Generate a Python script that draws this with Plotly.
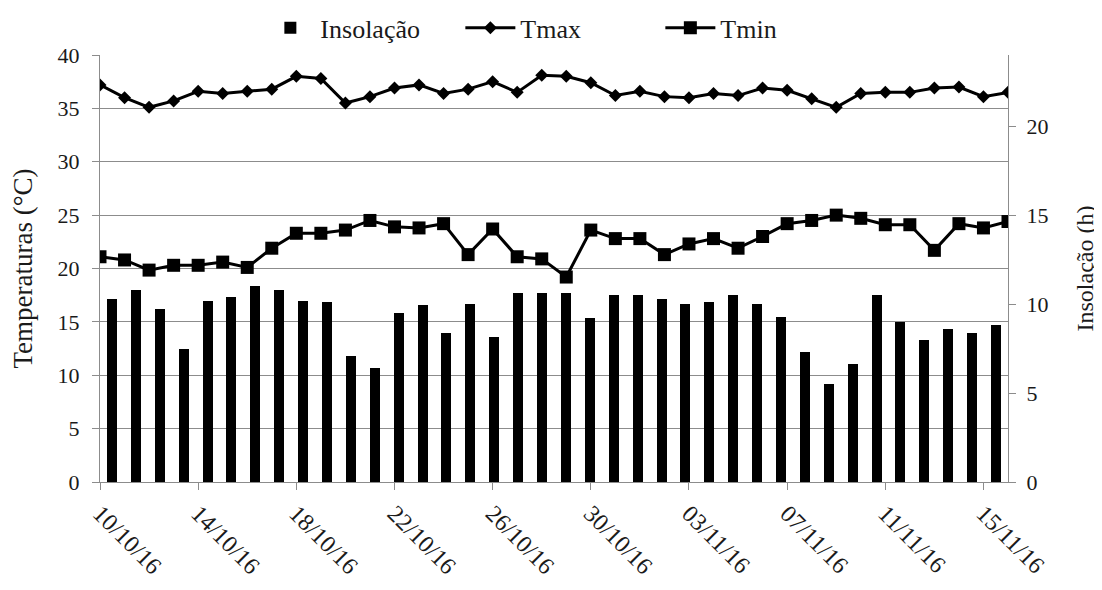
import plotly.graph_objects as go
import pandas as pd

dates = pd.date_range("2016-10-10", "2016-11-16", freq="D")
date_labels = [d.strftime("%d/%m/%y") for d in dates]

tmax = [37.2, 36.0, 35.1, 35.7, 36.6, 36.4, 36.6, 36.8, 38.0, 37.8,
        35.5, 36.1, 36.9, 37.2, 36.4, 36.8, 37.5, 36.5, 38.1, 38.0,
        37.4, 36.2, 36.6, 36.1, 36.0, 36.4, 36.2, 36.9, 36.7, 35.9,
        35.1, 36.4, 36.5, 36.5, 36.9, 37.0, 36.1, 36.5]

tmin = [21.1, 20.8, 19.85, 20.3, 20.3, 20.6, 20.1, 21.9, 23.3, 23.3,
        23.6, 24.5, 23.9, 23.8, 24.2, 21.3, 23.7, 21.1, 20.9, 19.2,
        23.6, 22.8, 22.8, 21.3, 22.3, 22.8, 21.9, 23.0, 24.2, 24.5,
        25.0, 24.7, 24.1, 24.1, 21.7, 24.2, 23.8, 24.4]

insolacao = [10.3, 10.8, 9.75, 7.5, 10.2, 10.4, 11.0, 10.8, 10.2, 10.1,
             7.1, 6.4, 9.5, 9.95, 8.4, 10.0, 8.15, 10.6, 10.6, 10.6,
             9.2, 10.5, 10.5, 10.3, 10.0, 10.1, 10.5, 10.0, 9.3, 7.3,
             5.5, 6.65, 10.5, 9.0, 8.0, 8.6, 8.4, 8.8]

FONT = "Liberation Serif, Times New Roman, serif"
GRID = "#8c8c8c"
TXT = "#1a1a1a"

fig = go.Figure()
fig.add_trace(go.Bar(
    x=date_labels, y=insolacao, name="Insolação",
    marker=dict(color="black", line=dict(width=0)),
    width=0.42, xaxis="x", yaxis="y",
))
fig.add_trace(go.Scatter(
    x=dates, y=tmax, name="Tmax", mode="lines+markers",
    line=dict(color="black", width=3),
    marker=dict(symbol="diamond", size=10, color="black"),
    xaxis="x2", yaxis="y2",
))
fig.add_trace(go.Scatter(
    x=dates, y=tmin, name="Tmin", mode="lines+markers",
    line=dict(color="black", width=3),
    marker=dict(symbol="square", size=13, color="black"),
    xaxis="x2", yaxis="y2",
))

fig.update_layout(
    width=1094, height=582,
    margin=dict(l=92, r=94, t=47, b=108),
    paper_bgcolor="white", plot_bgcolor="white",
    font=dict(family=FONT, size=22, color=TXT),
    showlegend=True,
    legend=dict(orientation="h", x=0.507, xanchor="center",
                yref="container", y=0.966, yanchor="middle",
                font=dict(family=FONT, size=26, color=TXT),
                bgcolor="rgba(0,0,0,0)", itemwidth=50, entrywidth=135,
                traceorder="normal"),
    bargap=0,
    xaxis=dict(type="category", range=[-0.5, 37.5], showticklabels=False,
               showgrid=False, ticks="", showline=False, fixedrange=True,
               automargin=False),
    yaxis=dict(side="right", range=[0, 24], tickvals=[0, 5, 10, 15, 20],
               showgrid=False, showline=True, linecolor=GRID, linewidth=1,
               ticks="outside", ticklen=7, tickcolor=GRID, ticklabelstandoff=6,
               tickfont=dict(family=FONT, size=22, color=TXT),
               title=dict(text="Insolação (h)", font=dict(family=FONT, size=24, color=TXT), standoff=28),
               zeroline=False, automargin=False),
    xaxis2=dict(type="date", overlaying="x", anchor="y2", side="bottom",
                range=["2016-10-10", "2016-11-16"],
                tick0="2016-10-10", dtick=4 * 86400000, tickformat="%d/%m/%y",
                tickangle=45, ticks="outside", ticklen=7, tickcolor=GRID,
                showline=True, linecolor=GRID, linewidth=1, showgrid=False,
                tickfont=dict(family=FONT, size=24, color=TXT),
                automargin=False),
    yaxis2=dict(overlaying="y", side="left", range=[0, 40], dtick=5,
                showgrid=True, gridcolor=GRID, gridwidth=1,
                showline=True, linecolor=GRID, linewidth=1,
                ticks="outside", ticklen=7, tickcolor=GRID, ticklabelstandoff=8,
                tickfont=dict(family=FONT, size=22, color=TXT),
                zeroline=False, automargin=False,
                title=dict(text="Temperaturas (°C)", font=dict(family=FONT, size=27, color=TXT), standoff=22)),
)

fig.write_html("out.html")
